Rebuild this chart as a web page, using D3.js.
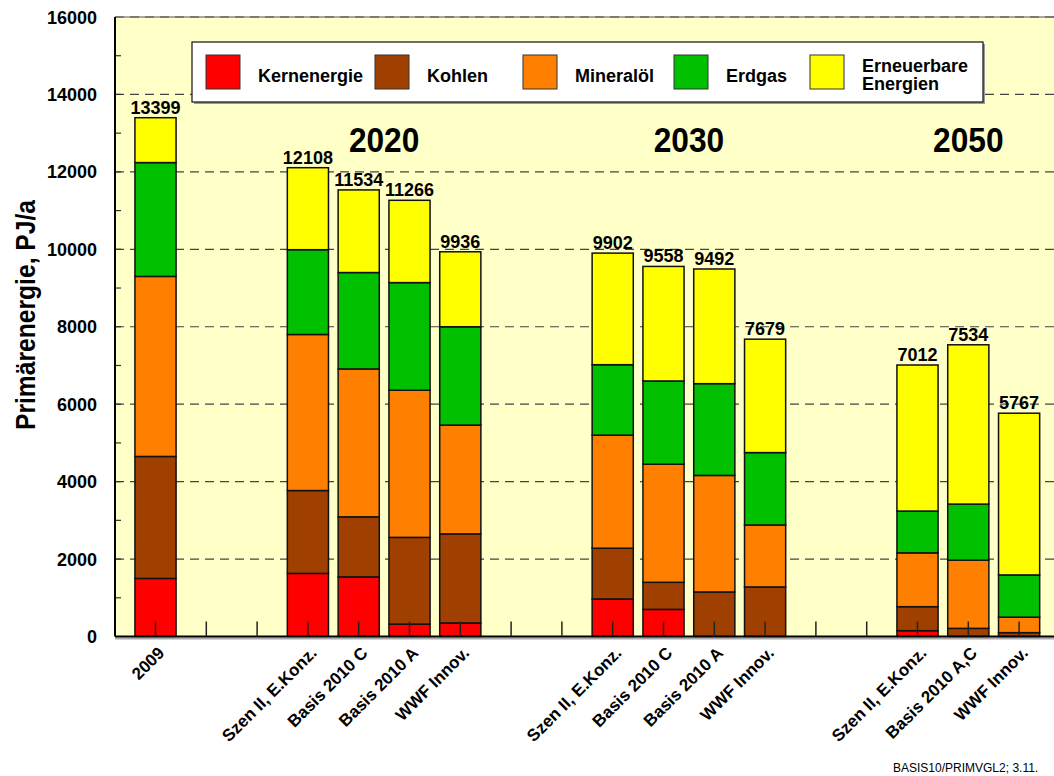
<!DOCTYPE html>
<html>
<head>
<meta charset="utf-8">
<script src="https://cdn.jsdelivr.net/npm/d3@7"></script>
<style>
  body { margin: 0; background: #fff; }
  text { font-family: "Liberation Sans", Arial, sans-serif; }
</style>
</head>
<body>
<svg class="chart"></svg>
<script>
// slots on the x axis (18 positions, some are left empty as group gaps)
var slotCount = 18;
var barSlots = [0, 3, 4, 5, 6, 9, 10, 11, 12, 15, 16, 17];
var barLabels = ["2009",
    "Szen II, E.Konz.", "Basis 2010 C", "Basis 2010 A", "WWF Innov.",
    "Szen II, E.Konz.", "Basis 2010 C", "Basis 2010 A", "WWF Innov.",
    "Szen II, E.Konz.", "Basis 2010 A,C", "WWF Innov."];

// PJ/a per energy carrier, one entry per bar
var kernenergie = [1500, 1630, 1540, 320, 350, 970, 700, 0, 0, 150, 0, 0];
var kohlen      = [3150, 2140, 1550, 2240, 2300, 1310, 700, 1150, 1280, 620, 210, 100];
var mineraloel  = [4650, 4030, 3820, 3800, 2810, 2920, 3050, 3010, 1600, 1390, 1760, 400];
var erdgas      = [2940, 2190, 2490, 2780, 2540, 1820, 2150, 2370, 1870, 1080, 1450, 1090];
var erneuerbar  = [1159, 2118, 2134, 2126, 1936, 2882, 2958, 2962, 2929, 3772, 4114, 4177];
var totals      = [13399, 12108, 11534, 11266, 9936, 9902, 9558, 9492, 7679, 7012, 7534, 5767];

var seriesKeys = ["kern", "kohlen", "mineral", "erdgas", "ern"];
var seriesNames = ["Kernenergie", "Kohlen", "Mineralöl", "Erdgas", ["Erneuerbare", "Energien"]];
var seriesColors = ["#ff0000", "#a04000", "#ff8000", "#00c000", "#ffff00"];

var groups = [{label: "2020", slots: [3, 6]}, {label: "2030", slots: [9, 12]}, {label: "2050", slots: [15, 17]}];
var yTicks = d3.range(0, 16001, 2000);

var W = 1054, H = 776;
var plotLeft = 115, plotTop = 17, plotBottom = 636.5;

var svg = d3.select(".chart").attr("width", W).attr("height", H);

var x = d3.scaleBand().domain(d3.range(slotCount)).range([130.1, 1044.5])
    .paddingInner(0.19).paddingOuter(0.095);
var y = d3.scaleLinear().domain([0, 16000]).range([plotBottom, plotTop]);
var color = d3.scaleOrdinal().domain(seriesKeys).range(seriesColors);

var rows = barSlots.map(function(s, i) {
    return {slot: s, label: barLabels[i], total: totals[i],
        kern: kernenergie[i], kohlen: kohlen[i], mineral: mineraloel[i], erdgas: erdgas[i], ern: erneuerbar[i]};
});
var stacked = d3.stack().keys(seriesKeys)(rows);

// plot background
svg.append("rect")
    .attr("x", plotLeft).attr("y", plotTop)
    .attr("width", W - plotLeft + 10).attr("height", plotBottom - plotTop)
    .attr("fill", "#ffffc8");

// dashed grid lines every 2000
svg.append("g").selectAll("line")
    .data(yTicks.filter(function(d) { return d > 0; }))
    .enter().append("line")
    .attr("x1", plotLeft).attr("x2", W)
    .attr("y1", function(d) { return y(d); }).attr("y2", function(d) { return y(d); })
    .attr("stroke", "#444").attr("stroke-width", 1.2)
    .attr("stroke-dasharray", "9,6");

// top frame line
svg.append("line")
    .attr("x1", plotLeft).attr("x2", W).attr("y1", y(16000)).attr("y2", y(16000))
    .attr("stroke", "#555").attr("stroke-width", 1.2);

// bars
svg.append("g").selectAll("g")
    .data(stacked)
    .enter().append("g")
    .attr("fill", function(d) { return color(d.key); })
    .selectAll("rect")
    .data(function(d) { return d.filter(function(p) { return p[1] - p[0] > 0; }); })
    .enter().append("rect")
    .attr("x", function(d) { return x(d.data.slot); })
    .attr("width", x.bandwidth())
    .attr("y", function(d) { return y(d[1]); })
    .attr("height", function(d) { return y(d[0]) - y(d[1]); })
    .attr("stroke", "#111").attr("stroke-width", 1.5);

// totals above bars
svg.append("g").selectAll("text")
    .data(rows)
    .enter().append("text")
    .attr("x", function(d) { return x(d.slot) + x.bandwidth() / 2; })
    .attr("y", function(d) { return y(d.total) - 4; })
    .attr("text-anchor", "middle")
    .attr("font-size", 18).attr("font-weight", "bold")
    .text(function(d) { return d.total; });

// year headings above each scenario group (slightly condensed like the original)
svg.append("g").selectAll("text")
    .data(groups)
    .enter().append("text")
    .attr("transform", function(d) {
        var cx = (x(d.slots[0]) + x(d.slots[1]) + x.bandwidth()) / 2;
        return "translate(" + cx + ",152) scale(0.88,1)";
    })
    .attr("text-anchor", "middle")
    .attr("font-size", 36).attr("font-weight", "bold")
    .text(function(d) { return d.label; });

// left axis: minor ticks every 1000, labels every 2000
svg.append("g").selectAll("line")
    .data(d3.range(1000, 16000, 1000))
    .enter().append("line")
    .attr("x1", plotLeft).attr("x2", plotLeft + 6)
    .attr("y1", function(d) { return y(d); }).attr("y2", function(d) { return y(d); })
    .attr("stroke", "#333").attr("stroke-width", 1.2);

svg.append("g").selectAll("text")
    .data(yTicks)
    .enter().append("text")
    .attr("x", 97)
    .attr("y", function(d) { return y(d) + 6.5; })
    .attr("text-anchor", "end")
    .attr("font-size", 18).attr("font-weight", "bold")
    .text(function(d) { return d; });

svg.append("line")
    .attr("x1", plotLeft).attr("x2", plotLeft).attr("y1", plotTop).attr("y2", plotBottom)
    .attr("stroke", "#000").attr("stroke-width", 2);

svg.append("text")
    .attr("transform", "translate(35,315) rotate(-90) scale(0.88,1)")
    .attr("text-anchor", "middle")
    .attr("font-size", 28).attr("font-weight", "bold")
    .text("Primärenergie, PJ/a");

// bottom axis with shadow and ticks at every slot
svg.append("line")
    .attr("x1", plotLeft).attr("x2", W).attr("y1", plotBottom + 2).attr("y2", plotBottom + 2)
    .attr("stroke", "#aaa").attr("stroke-width", 2);
svg.append("line")
    .attr("x1", plotLeft).attr("x2", W).attr("y1", plotBottom).attr("y2", plotBottom)
    .attr("stroke", "#000").attr("stroke-width", 2);

svg.append("g").selectAll("line")
    .data(d3.range(slotCount))
    .enter().append("line")
    .attr("x1", function(d) { return x(d) + x.bandwidth() / 2; })
    .attr("x2", function(d) { return x(d) + x.bandwidth() / 2; })
    .attr("y1", plotBottom - 15).attr("y2", plotBottom)
    .attr("stroke", "#222").attr("stroke-width", 1.5);

svg.append("g").selectAll("text")
    .data(rows)
    .enter().append("text")
    .attr("transform", function(d) {
        return "translate(" + (x(d.slot) + x.bandwidth() / 2 + 10) + ",654) rotate(-45)";
    })
    .attr("text-anchor", "end")
    .attr("font-size", 17).attr("font-weight", "bold")
    .text(function(d) { return d.label; });

// legend box
var legend = svg.append("g");
legend.append("rect")
    .attr("x", 194).attr("y", 44).attr("width", 791).attr("height", 60)
    .attr("fill", "#999");
legend.append("rect")
    .attr("x", 192).attr("y", 42).attr("width", 791).attr("height", 60)
    .attr("fill", "#fff").attr("stroke", "#111").attr("stroke-width", 1.2);

var swatchX = [206, 375, 523, 674, 810];
var items = legend.selectAll(".item")
    .data(seriesKeys)
    .enter().append("g")
    .attr("class", "item")
    .attr("transform", function(d, i) { return "translate(" + swatchX[i] + ",55)"; });

items.append("rect")
    .attr("width", 34).attr("height", 34)
    .attr("fill", function(d) { return color(d); })
    .attr("stroke", "#333").attr("stroke-width", 1);

items.append("text")
    .attr("x", 52)
    .attr("font-size", 18).attr("font-weight", "bold")
    .each(function(d, i) {
        var name = seriesNames[i];
        var t = d3.select(this);
        if (Array.isArray(name)) {
            t.append("tspan").attr("x", 52).attr("y", 17).text(name[0]);
            t.append("tspan").attr("x", 52).attr("y", 35).text(name[1]);
        } else {
            t.attr("y", 26.5).text(name);
        }
    });

// source note
svg.append("text")
    .attr("x", 893).attr("y", 772)
    .attr("font-size", 12)
    .text("BASIS10/PRIMVGL2; 3.11.");
</script>
</body>
</html>
